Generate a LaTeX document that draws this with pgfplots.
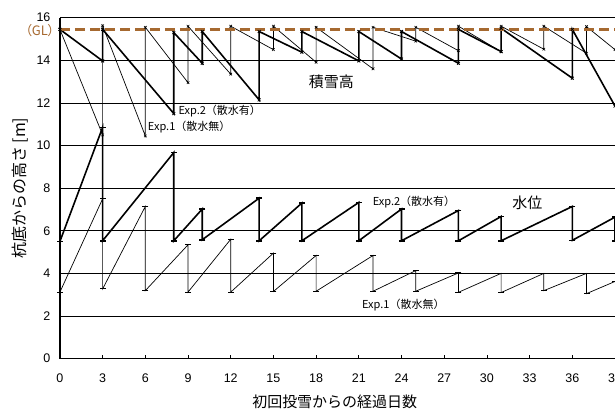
\documentclass[border=0pt]{standalone}
\usepackage{pgfplots}
\pgfplotsset{compat=1.18}
\usepackage{fontspec}
\setmainfont{Liberation Sans}
\newfontfamily\jp{Noto Sans CJK JP}
\newfontfamily\jpp[RawFeature=+palt]{Noto Sans CJK JP}
\definecolor{glbrown}{RGB}{166,105,48}

\pgfplotstableread{
x y
0 15.45
3 13.97
3 15.45
8 11.5
8 15.3
10 13.86
10 15.35
14 12.14
14 15.35
17 14.38
17 15.35
21 13.97
21 15.35
24 14.06
24 15.35
28 13.86
28 15.45
31 14.41
31 15.5
36 13.16
36 15.45
39 11.85
}\snowtwo

\pgfplotstableread{
x y
0 15.45
3 10.5
3 15.62
6 10.45
6 15.55
9 12.95
9 15.6
12 13.35
12 15.6
15 14.5
15 15.6
18 13.91
18 15.55
22 13.6
22 15.55
25 14.9
25 15.55
28 14.45
28 15.6
31 14.4
31 15.6
34 14.52
34 15.6
37 14.33
37 15.58
39 14.5
}\snowone

\pgfplotstableread{
x y
0 5.5
3 10.85
3 5.53
8 9.67
8 5.53
10 7.02
10 5.58
14 7.53
14 5.53
17 7.3
17 5.53
21 7.33
21 5.53
24 7.02
24 5.53
28 6.95
28 5.53
31 6.67
31 5.53
36 7.14
36 5.55
39 6.64
39 5.53
}\watertwo

\pgfplotstableread{
x y
0 3.12
3 7.5
3 3.27
6 7.14
6 3.19
9 5.34
9 3.12
12 5.6
12 3.12
15 4.95
15 3.15
18 4.84
18 3.16
22 4.84
22 3.16
25 4.13
25 3.16
28 4.02
28 3.11
31 4.0
31 3.1
34 4.0
34 3.19
37 4.0
37 3.05
39 3.62
}\waterone

\begin{document}
\begin{tikzpicture}
\begin{axis}[name=ax, scale only axis, width=555.75pt, height=341.33pt,
 xmin=0, xmax=39, ymin=0, ymax=16,
 xtick={0,3,...,39}, ytick={0,2,...,16},
 axis x line*=bottom, axis y line*=left,
 axis line style={line width=1.2pt, black},
 ymajorgrids, grid style={black, line width=0.6pt},
 xtick align=inside, major tick length=4pt,
 x tick style={black, line width=0.8pt},
 y tick style={draw=none},
 tick label style={font=\fontsize{12.5}{14}\selectfont},
 /pgf/number format/assume math mode=true,
 yticklabel style={xshift=-6pt},
 xticklabel style={yshift=-12pt},
 xlabel={\jp 初回投雪からの経過日数},
 ylabel={\jp 杭底からの高さ [m]},
 xlabel style={at={(axis description cs:0.495,-0.1274)}, anchor=center, font=\fontsize{15}{17}\selectfont},
 ylabel style={at={(axis description cs:-0.072,0.5)}, anchor=center, font=\fontsize{16}{18}\selectfont},
 clip=false,
]
\addplot[black, line width=0.7pt, mark=x, mark size=1.8pt, mark options={solid, line width=0.6pt}] table {\snowone};
\addplot[black, line width=1.6pt, mark=x, mark size=2pt, mark options={solid, line width=0.8pt}] table {\snowtwo};
\addplot[black, line width=0.7pt, mark=-, mark size=3pt, mark options={solid, line width=1pt}] table {\waterone};
\addplot[black, line width=1.6pt, mark=-, mark size=3pt, mark options={solid, line width=1.6pt}] table {\watertwo};
\addplot[glbrown, line width=3pt, dash pattern=on 10pt off 5pt, mark=none] coordinates {(0,15.45) (39,15.45)};

\node[anchor=west, font=\fontsize{11}{13}\selectfont, inner sep=1pt] at (axis cs:8.25,11.6) {\jp Exp.2（散水有）};
\node[anchor=west, font=\fontsize{11}{13}\selectfont, inner sep=1pt] at (axis cs:6.1,10.85) {\jp Exp.1（散水無）};
\node[anchor=west, font=\fontsize{11}{13}\selectfont, inner sep=1pt] at (axis cs:21.9,7.37) {\jp Exp.2（散水有）};
\node[anchor=west, font=\fontsize{11}{13}\selectfont, inner sep=1pt] at (axis cs:21.15,2.49) {\jp Exp.1（散水無）};
\node[font=\fontsize{15}{17}\selectfont] at (axis cs:19.07,13.0) {\jp 積雪高};
\node[font=\fontsize{15}{17}\selectfont] at (axis cs:32.84,7.3) {\jp 水位};
\node[anchor=east, text=glbrown, font=\fontsize{13}{15}\selectfont, xshift=-2pt] at (axis cs:0,15.38) {\jpp （GL）};
\end{axis}
\pgfresetboundingbox
\path[use as bounding box] ([xshift=-60pt,yshift=-53pt]ax.south west) rectangle ([yshift=17.7pt]ax.north east);
\end{tikzpicture}
\end{document}
